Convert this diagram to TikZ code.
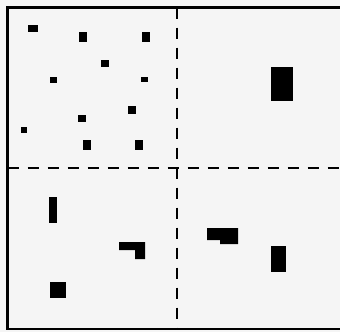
\documentclass[tikz,border=0pt]{standalone}
\usepackage{tikz}

\begin{document}
\begin{tikzpicture}[
      x=1pt, y=-1pt,
      frame/.style={line width=2.6pt},
      divider/.style={line width=2pt, dash pattern=on 11pt off 9pt},
      blk/.style={fill=black, draw=none}
    ]
      % Canvas
      \useasboundingbox[fill=black!4] (0,0) rectangle (340,332);

      % Outer frame (runs off the right edge)
      \draw[frame] (345,7.5) -- (7.5,7.5) -- (7.5,329) -- (345,329);

      % Dividers
      \draw[divider] (177,7.5) -- (177,329);
      \draw[divider] (7.5,168) -- (345,168);

      % Top left: scattered dots
      \fill[blk] (28,25) rectangle (38,32);
      \fill[blk] (79,32) rectangle (87,42);
      \fill[blk] (142,32) rectangle (150,42);
      \fill[blk] (101,60) rectangle (109,67);
      \fill[blk] (50,77) rectangle (57,83);
      \fill[blk] (141,77) rectangle (148,82);
      \fill[blk] (128,106) rectangle (136,114);
      \fill[blk] (78,115) rectangle (86,122);
      \fill[blk] (21,127) rectangle (27,133);
      \fill[blk] (83,140) rectangle (91,150);
      \fill[blk] (135,140) rectangle (143,150);

      % Top right: one block
      \fill[blk] (271,67) rectangle (293,101);

      % Bottom left
      \fill[blk] (49,197) rectangle (57,223);
      \fill[blk] (119,242) -- (145,242) -- (145,259) -- (135,259)
        -- (135,250) -- (119,250) -- cycle;
      \fill[blk] (50,282) rectangle (66,298);

      % Bottom right
      \fill[blk] (207,228) -- (238,228) -- (238,244) -- (220,244)
        -- (220,240) -- (207,240) -- cycle;
      \fill[blk] (271,246) rectangle (286,272);
    \end{tikzpicture}
\end{document}
